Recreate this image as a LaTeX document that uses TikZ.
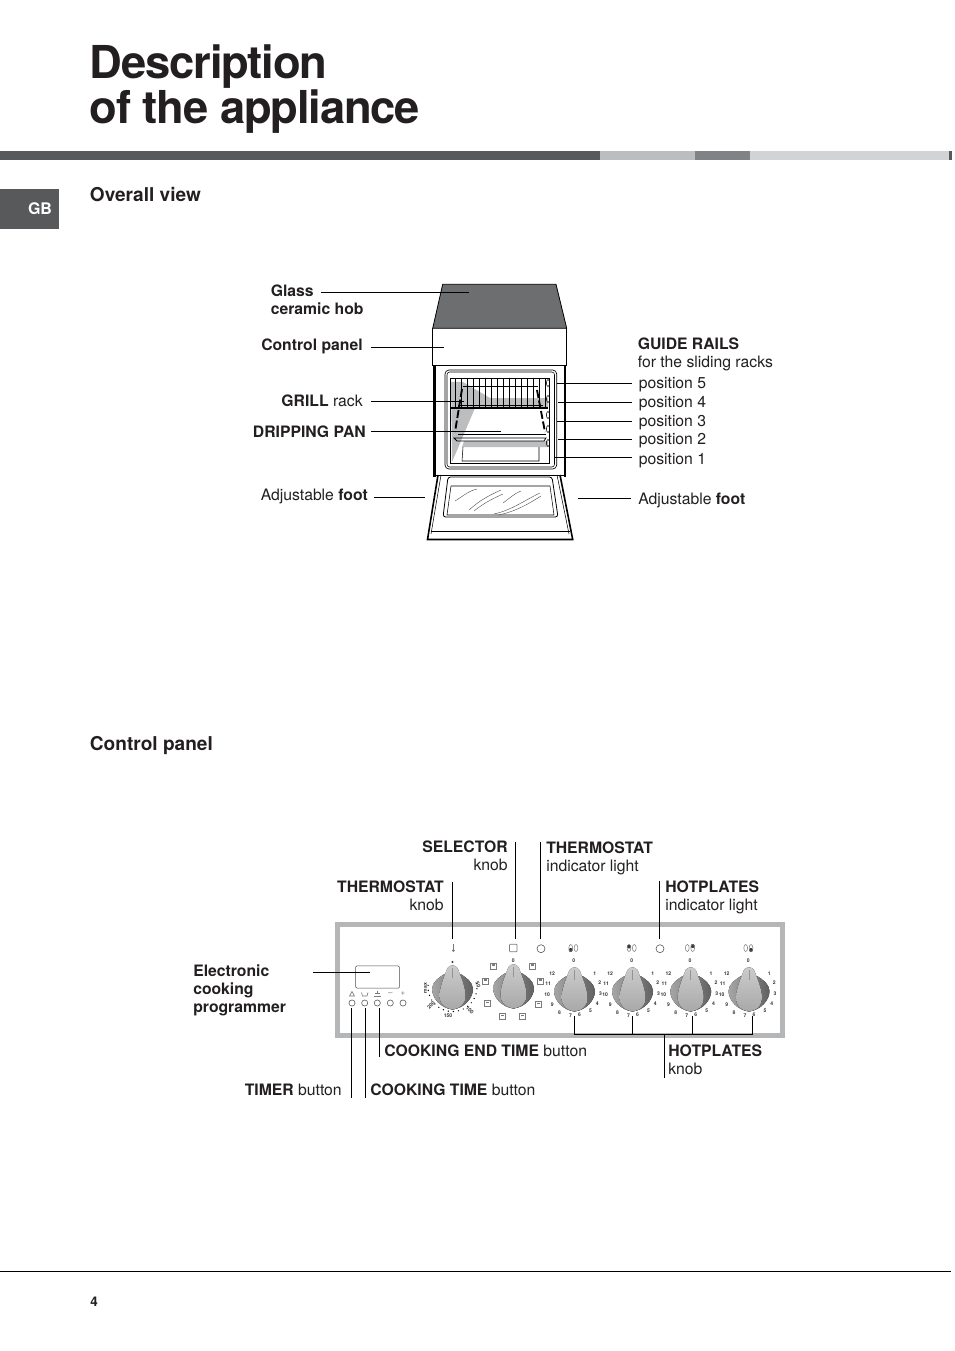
\documentclass[tikz,border=0pt]{standalone}
\usepackage{xcolor}
\usepackage{fontspec}
\setmainfont{TeX Gyre Heros}
\newfontfamily\titlefont[LetterSpace=-2.5]{TeX Gyre Heros}
\usetikzlibrary{positioning, calc}
\definecolor{inkBlack}{HTML}{231F20}
\definecolor{barDark}{HTML}{58595B}
\definecolor{barMid}{HTML}{808285}
\definecolor{barSoft}{HTML}{BCBDBF}
\definecolor{barPale}{HTML}{D1D3D4}
\definecolor{hobGrey}{HTML}{6D6E70}
\definecolor{frameGrey}{HTML}{B5B6B8}
\definecolor{iconGrey}{HTML}{7A7B7D}

% one control knob: #1 name, #2 x, #3 y
\newcommand{\ctrlknob}[3]{
  \begin{scope}[shift={(#2,#3)}]
    \coordinate (#1) at (0,0);
    \fill[left color=black!35,right color=black!62] (-20.5,-1) .. controls (-20.5,-8) and (-13,-13) .. (-8,-16) -- (8,-16) .. controls (13,-13) and (20.5,-8) .. (20.5,-1) .. controls (20.5,8) and (12,18) .. (0,19.5) .. controls (-12,18) and (-20.5,8) .. cycle;
    \fill[top color=black!20,bottom color=black!34] (-5,-22) .. controls (-3,-25.5) and (3,-25.5) .. (5,-22) .. controls (9,-12) and (13,-2) .. (13,6) .. controls (13,13) and (9,18) .. (0,19.5) .. controls (-9,18) and (-13,13) .. (-13,6) .. controls (-13,-2) and (-9,-12) .. cycle;
    \draw[black!42,line width=.4pt] (0,-22) -- (0,-12);
  \end{scope}}
% numbers round a hotplate knob
\newcommand{\hotdigits}[2]{
  \foreach \n/\dx/\dy in {0/-.7/-27.3,1/20.3/-14.7,2/25.3/-5.3,3/26/5.3,4/22.7/15.3,5/16/23,6/5/27,7/-4/28,8/-15/24.3,9/-22.3/17,10/-27.3/7,11/-26.3/-4,12/-22.3/-14}
    \node[digit] at ($(#1,#2)+(\dx,\dy)$) {\n};}

\begin{document}
\begin{tikzpicture}[x=.75pt,y=-.75pt]
  \tikzset{
    lbl/.style={anchor=north west,inner sep=0,align=left,font=\fontsize{11.8}{13.5}\selectfont,text=inkBlack},
    lblr/.style={anchor=north east,inner sep=0,align=right,font=\fontsize{11.8}{13.5}\selectfont,text=inkBlack},
    head/.style={anchor=base west,inner sep=0,font=\fontsize{14.3}{16}\selectfont\bfseries,text=inkBlack},
    leader/.style={draw=black,line width=.6pt},
    ovenline/.style={draw=black,line width=.6pt},
    btn/.style={circle,draw=black!70,line width=.4pt,minimum size=4.6pt,inner sep=0},
    lamp/.style={circle,draw=black!70,line width=.4pt,minimum size=6pt,inner sep=0},
    tinyicon/.style={draw=iconGrey,line width=.5pt,minimum size=4.4pt,inner sep=0},
    digit/.style={inner sep=0,font=\fontsize{3.8}{4}\selectfont\bfseries,text=black!80}
  }
  \useasboundingbox (0,0) rectangle (954,1351);
  \fill[white] (0,0) rectangle (954,1351);

  % title and bars
  \node[anchor=base west,inner sep=0,text=inkBlack,font=\fontsize{34}{35}\titlefont\bfseries] (titleA) at (89.5,79) {Description};
  \node[anchor=base west,inner sep=0,text=inkBlack,font=\fontsize{34}{35}\titlefont\bfseries] (titleB) at (89.5,124) {of the appliance};
  \fill[barDark] (0,151) rectangle (600,160);
  \fill[barSoft] (600,151) rectangle (695,160);
  \fill[barMid] (695,151) rectangle (750,160);
  \fill[barPale] (750,151) rectangle (949,160);
  \fill[barDark] (949,151) rectangle (952,160);
  \fill[barDark] (0,189) rectangle (59,229);
  \node[inner sep=0,text=white,font=\fontsize{12}{13}\selectfont\bfseries] (gb) at (40,209) {GB};
  \node[head] (overall) at (89.7,201.5) {Overall view};
  \node[head] (panelhead) at (89.7,750.5) {Control panel};
  \draw[black,line width=.5pt] (0,1271) -- (951,1271);
  \node[anchor=base west,inner sep=0,font=\fontsize{10}{12}\selectfont\bfseries,text=inkBlack] (pageno) at (90,1306) {4};

  % oven: top and panel
  \filldraw[fill=hobGrey,ovenline] (442.7,284.3) -- (556,284.3) -- (566.7,328.3) -- (432.7,328.3) -- cycle;
  \draw[ovenline] (432.7,328.3) -- (432.7,365.7) -- (566.7,365.7) -- (566.7,328.3);
  % oven: body walls
  \draw[black,line width=2pt] (434.5,366) -- (434.5,477);
  \draw[black,line width=2pt] (565,366) -- (565,477);
  \draw[black,line width=.5pt,rounded corners=3] (445,370) rectangle (556.7,469);
  \draw[black,line width=.4pt,rounded corners=2] (447,372) rectangle (554.5,467);
  \draw[black,line width=.5pt] (450.5,378) rectangle (549,463);
  % oven: inner shadow
  \fill[barSoft] (451,382) -- (463,382) -- (490,398) -- (548,398) -- (548,408) -- (475,408) -- (452,462) -- cycle;
  \fill[barSoft] (464,441) -- (548,441) -- (548,447) -- (462,447) -- cycle;
  % oven: rack
  \foreach \wx in {455,461,...,545}
    \draw[black,line width=.35pt] (\wx,379) -- (\wx,408);
  \draw[black,line width=.8pt] (451,408) -- (548,408);
  \draw[black,line width=.4pt] (463,386) -- (538,386);
  \draw[black,line width=.4pt] (458,405) -- (543,405);
  % oven: pan and lower tray
  \draw[ovenline] (458,434) -- (546,434);
  \draw[ovenline] (454,438) -- (546,438) -- (544,441) -- (457,441) -- cycle;
  \draw[black,line width=.4pt] (463,447) -- (462,461) -- (539,461) -- (539,447);
  % oven: side rails
  \draw[black,line width=1.4pt,dash pattern=on 6pt off 2pt] (462,389) -- (455,432);
  \draw[black,line width=1.4pt,dash pattern=on 6pt off 2pt] (537,390) -- (545,432);
  \foreach \ry in {383,399,415,429,443}
    \draw[black,line width=.4pt] (548,\ry) circle[x radius=1.6,y radius=3.5];
  % oven: door
  \draw[black,line width=1.2pt] (438,475) -- (427.5,539.5) -- (572.7,539.5) -- (560,475);
  \draw[black,line width=.4pt] (430.5,531.5) -- (569.5,531.5);
  \draw[black,line width=.4pt] (441,475) -- (431,534);
  \draw[black,line width=.4pt] (557,475) -- (569,534);
  \draw[black,line width=.5pt] (434,475) -- (565,475);
  \draw[ovenline,rounded corners=2] (448,477) -- (552,477) -- (558,517) -- (443,517) -- cycle;
  \draw[black,line width=.4pt] (451,486) -- (550,486) -- (554,515) -- (447,515) -- cycle;
  \draw[black!70,line width=.3pt] (455,501) .. controls (462,497) and (468,491) .. (477,489);
  \draw[black!70,line width=.3pt] (469,510) .. controls (480,500) and (490,495) .. (501,490);
  \draw[black!70,line width=.3pt] (474,511) .. controls (484,503) and (492,499) .. (503,494);
  \draw[black!70,line width=.3pt] (503,503) .. controls (510,498) and (515,493) .. (521,491);
  \draw[black!70,line width=.3pt] (494,514) .. controls (512,510) and (525,500) .. (540,493);
  \draw[black!70,line width=.3pt] (498,515) .. controls (515,512) and (530,503) .. (541,496);

  % overall view labels
  \node[lbl] (glass) at (270.5,284.5) {\textbf{Glass}\\\textbf{ceramic hob}};
  \node[lbl] (ctrlpanel) at (261,338.5) {\textbf{Control panel}};
  \node[lblr] (grill) at (363,394.5) {\textbf{GRILL} rack};
  \node[lblr] (dripping) at (366,425.5) {\textbf{DRIPPING PAN}};
  \node[lblr] (footL) at (368,488.5) {Adjustable \textbf{foot}};
  \node[lbl] (rails) at (637.5,338) {\textbf{GUIDE RAILS}\\for the sliding racks};
  \node[lbl] (pos5) at (638.5,377.2) {position 5};
  \node[lbl] (pos4) at (638.5,396.2) {position 4};
  \node[lbl] (pos3) at (638.5,415.2) {position 3};
  \node[lbl] (pos2) at (638.5,433.2) {position 2};
  \node[lbl] (pos1) at (638.5,453.2) {position 1};
  \node[lbl] (footR) at (638,492.5) {Adjustable \textbf{foot}};

  \coordinate (hobA) at (321,292.5); \coordinate (hobB) at (469,292.5);
  \coordinate (panelA) at (371,347.5); \coordinate (panelB) at (443.5,347.5);
  \coordinate (grillA) at (371,401.5); \coordinate (grillB) at (464,401.5);
  \coordinate (panA) at (371,431.5); \coordinate (panB) at (501,431.5);
  \coordinate (footLA) at (374,497); \coordinate (footLB) at (425,497);
  \coordinate (footRA) at (578,498); \coordinate (footRB) at (631,498);
  \draw[leader] (hobA) -- (hobB);
  \draw[leader] (panelA) -- (panelB);
  \draw[leader] (grillA) -- (grillB);
  \draw[leader] (panA) -- (panB);
  \draw[leader] (footLA) -- (footLB);
  \draw[leader] (footRA) -- (footRB);
  \foreach \pn/\px/\py in {5/556.7/383.3,4/558/402.3,3/557/421,2/558/439,1/555/457.7}{
    \coordinate (rail\pn) at (\px,\py);
    \coordinate (railEnd\pn) at (632,\py);
    \draw[leader] (rail\pn) -- (railEnd\pn);
  }

  % control panel frame
  \draw[frameGrey,line width=3.75pt] (337.5,924.5) rectangle (782.5,1035.5);
  \node[draw=black!70,line width=.4pt,rounded corners=.8pt,minimum width=32.7pt,minimum height=16.7pt,inner sep=0] (display) at (377.5,977) {};

  % programmer buttons and signs
  \node[btn] (btnA) at (352,1003) {};
  \node[btn] (btnB) at (364.7,1003) {};
  \node[btn] (btnC) at (377.3,1003) {};
  \node[btn] (btnD) at (390.3,1003) {};
  \node[btn] (btnE) at (403,1003) {};
  \draw[iconGrey,line width=.5pt] (349.5,996) -- (352,991.5) -- (354.5,996) -- cycle;
  \draw[iconGrey,line width=.5pt] (361.5,992.5) -- (362.5,996) -- (367,996) -- (368,992.5);
  \draw[iconGrey,line width=.5pt] (374,996) -- (381,996) (375,993.5) -- (380,993.5) (377.5,991) -- (377.5,993.5);
  \node[inner sep=0,font=\fontsize{6}{7}\selectfont,text=iconGrey] (minussign) at (390.3,994) {--};
  \node[inner sep=0,font=\fontsize{6}{7}\selectfont,text=iconGrey] (plussign) at (403,994) {+};

  % knobs
  \ctrlknob{knobT}{452.5}{990}
  \ctrlknob{knobS}{513.5}{989}
  \ctrlknob{knobA}{574.5}{992}
  \ctrlknob{knobB}{632.5}{992}
  \ctrlknob{knobC}{690.7}{992}
  \ctrlknob{knobD}{749}{992}
  \hotdigits{574.5}{988}
  \hotdigits{632.5}{988}
  \hotdigits{690.7}{988}
  \hotdigits{749}{988}

  % thermostat scale
  \foreach \da in {-8,4,...,188}
    \fill[black] ($(452.5,987)+(\da:24.5)$) circle[radius=.7];
  \fill[black!80] (452.5,962) circle[radius=1.2];
  \node[digit,rotate=90] at (425.5,988) {max};
  \node[digit,rotate=45] at (431,1005) {200};
  \node[digit] at (448,1016) {150};
  \node[digit,rotate=-45] at (470,1010) {100};
  \node[digit,rotate=-70] at (478,985) {50};

  % selector icons
  \node[digit] at (513.3,960.7) {0};
  \foreach \sx/\sy in {493.3/966,532.7/966,540.7/981,538.7/1004.3,522.3/1016.7,502.7/1016.7,487.7/1003.3,485.7/981}{
    \node[tinyicon] at (\sx,\sy) {};
    \fill[iconGrey] (\sx-1.6,\sy-1.6) rectangle (\sx+1.6,\sy-.4);
  }

  % indicators
  \node[draw=iconGrey,line width=.5pt,rounded corners=.5pt,minimum size=5.6pt,inner sep=0] (selLamp) at (513.3,948) {};
  \node[lamp] (thermoLamp) at (541,948.7) {};
  \node[lamp] (hotLamp) at (660,948.7) {};
  \draw[iconGrey,line width=.7pt] (453.3,943.5) -- (453.3,949.5);
  \fill[iconGrey] (453.3,950.5) circle[radius=1.5];
  \foreach \bx/\by in {570.7/950,629/946.5,692.7/946,751/950}
    \fill[black!80] (\bx,\by) circle[radius=2];
  \foreach \ox in {570.7,576,629,634.3,687.3,692.7,745.7,751}
    \draw[iconGrey,line width=.4pt] (\ox,948) circle[x radius=1.9,y radius=3.5];

  % control panel labels
  \node[lblr] (selector) at (508,840.5) {\textbf{SELECTOR}\\knob};
  \node[lbl] (thermoLight) at (546,842) {\textbf{THERMOSTAT}\\indicator light};
  \node[lblr] (thermoKnob) at (444,881) {\textbf{THERMOSTAT}\\knob};
  \node[lbl] (hotLight) at (665,881) {\textbf{HOTPLATES}\\indicator light};
  \node[lbl] (program) at (193,964.5) {\textbf{Electronic}\\\textbf{cooking}\\\textbf{programmer}};
  \node[lbl] (endtime) at (384,1044.5) {\textbf{COOKING END TIME} button};
  \node[lbl] (hotKnob) at (668,1044.5) {\textbf{HOTPLATES}\\knob};
  \node[lblr] (timer) at (342,1083.5) {\textbf{TIMER} button};
  \node[lbl] (cooktime) at (370,1083.5) {\textbf{COOKING TIME} button};

  % control panel connectors
  \coordinate (tkTop) at (452.5,882); \coordinate (tkEnd) at (452.5,939);
  \coordinate (selTop) at (515.5,842); \coordinate (selEnd) at (515.5,939);
  \coordinate (tlTop) at (540,842); \coordinate (tlEnd) at (540,939);
  \coordinate (hlTop) at (659.5,881); \coordinate (hlEnd) at (659.5,939);
  \coordinate (progA) at (313,972); \coordinate (progB) at (370,972);
  \coordinate (timerTop) at (351,1008); \coordinate (timerEnd) at (351,1098);
  \coordinate (cookTop) at (365.5,1008); \coordinate (cookEnd) at (365.5,1098);
  \coordinate (endTop) at (379,1008); \coordinate (endEnd) at (379,1057);
  \draw[leader] (tkTop) -- (tkEnd);
  \draw[leader] (selTop) -- (selEnd);
  \draw[leader] (tlTop) -- (tlEnd);
  \draw[leader] (hlTop) -- (hlEnd);
  \draw[leader] (progA) -- (progB);
  \draw[leader] (timerTop) -- (timerEnd);
  \draw[leader] (cookTop) -- (cookEnd);
  \draw[leader] (endTop) -- (endEnd);
  \coordinate (hpA) at (574.5,1016); \coordinate (hpB) at (632.5,1016);
  \coordinate (hpC) at (692,1016); \coordinate (hpD) at (752.5,1016);
  \coordinate (hpStem) at (664,1034); \coordinate (hpEnd) at (664,1078);
  \draw[leader] (hpA) |- (hpStem) -| (hpD);
  \draw[leader] (hpB) -- (hpB |- hpStem);
  \draw[leader] (hpC) -- (hpC |- hpStem);
  \draw[leader] (hpStem) -- (hpEnd);
\end{tikzpicture}
\end{document}
